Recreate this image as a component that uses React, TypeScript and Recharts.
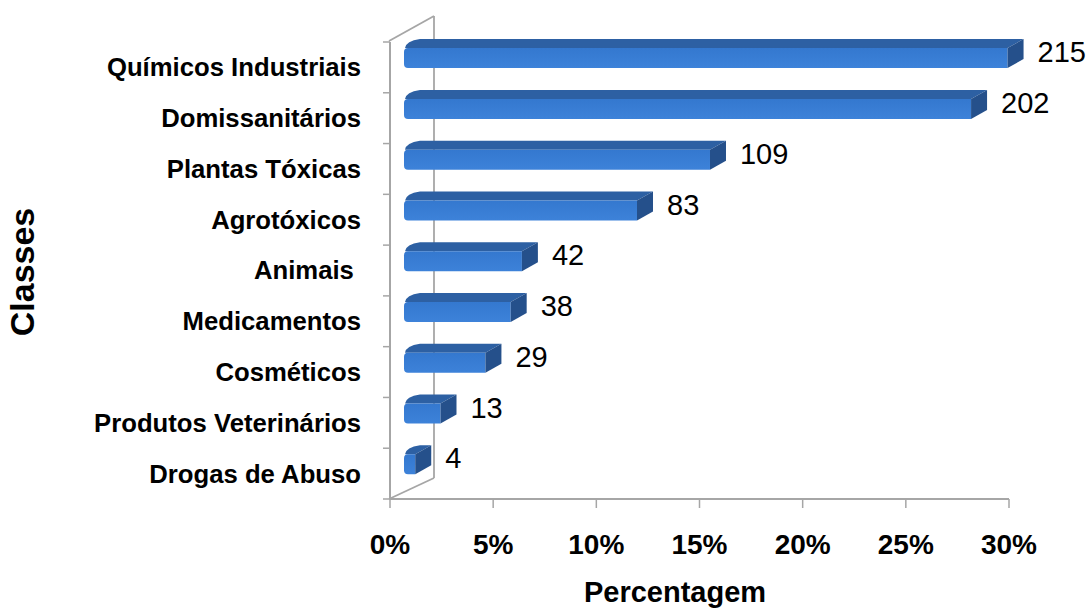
import { Bar, BarChart, LabelList, XAxis, YAxis } from "recharts";

// Casos por classe de agente tóxico
const classes = [
	"Químicos Industriais",
	"Domissanitários",
	"Plantas Tóxicas",
	"Agrotóxicos",
	"Animais ",
	"Medicamentos",
	"Cosméticos",
	"Produtos Veterinários",
	"Drogas de Abuso",
];
const casos = [215, 202, 109, 83, 42, 38, 29, 13, 4];
const percentTicks = [0, 0.05, 0.1, 0.15, 0.2, 0.25, 0.3];

const total = casos.reduce((a, b) => a + b, 0);
const data = classes.map((name, i) => ({
	name,
	casos: casos[i],
	pct: casos[i] / total,
}));

const W = 1091;
const H = 610;
const LEFT = 390;
const RIGHT = 1009;
const TOP = 42;
const BOTTOM = 499;
const BAND = (BOTTOM - TOP) / classes.length;

// box geometry for the pseudo-3D bars
const SHIFT_X = 14;
const DEPTH_X = 16;
const DEPTH_Y = 9;
const FRONT_H = 20;
const FRAME = "#a6a6a6";
const FONT = "'Liberation Sans', Arial, sans-serif";

function Box3D(props: any) {
	const { x, y, width, height } = props;
	const mid = y + height / 2;
	const top = mid - BAND / 2 + 6;
	const bot = top + FRONT_H;
	const x0 = x + SHIFT_X;
	const x1 = x0 + Math.max(width, 0);
	const r = 4;
	const front = `M${x0 + r},${top} L${x1},${top} L${x1},${bot} L${x0 + r},${bot} Q${x0},${bot} ${x0},${bot - r} L${x0},${top + r} Q${x0},${top} ${x0 + r},${top} Z`;
	const lid = `M${x0 + 1},${top} Q${x0 + 2},${top - DEPTH_Y + 2} ${x0 + DEPTH_X},${top - DEPTH_Y} L${x1 + DEPTH_X},${top - DEPTH_Y} L${x1},${top} Z`;
	const side = `M${x1},${top} L${x1 + DEPTH_X},${top - DEPTH_Y} L${x1 + DEPTH_X},${bot - DEPTH_Y} L${x1},${bot} Z`;
	return (
		<g>
			<path d={lid} fill="#2d60a3" />
			<path d={front} fill="url(#frontGrad)" />
			<path d={side} fill="#25508b" />
		</g>
	);
}

function ValueLabel(props: any) {
	const { x, y, width, height, value } = props;
	const mid = y + height / 2;
	const top = mid - BAND / 2 + 6;
	return (
		<text
			x={x + SHIFT_X + width + DEPTH_X + 14}
			y={top + 4}
			dy="0.35em"
			fontFamily={FONT}
			fontSize={29}
			fill="#000"
		>
			{value}
		</text>
	);
}

function ClassTick(props: any) {
	const { y, payload, index } = props;
	const bandTop = y - BAND / 2;
	return (
		<g>
			<line x1={LEFT - 7} x2={LEFT} y1={bandTop} y2={bandTop} stroke={FRAME} strokeWidth={1.5} />
			{index === classes.length - 1 && (
				<line x1={LEFT - 7} x2={LEFT} y1={bandTop + BAND} y2={bandTop + BAND} stroke={FRAME} strokeWidth={1.5} />
			)}
			<text
				x={361}
				y={y}
				dy="0.35em"
				textAnchor="end"
				fontFamily={FONT}
				fontWeight="bold"
				fontSize={25.7}
				fill="#000"
				style={{ whiteSpace: "pre" }}
			>
				{payload.value}
			</text>
		</g>
	);
}

function Frame() {
	const bx = LEFT + 44;
	return (
		<g>
			<defs>
				<linearGradient id="frontGrad" x1="0" y1="0" x2="0" y2="1">
					<stop offset="0%" stopColor="#3478cf" />
					<stop offset="100%" stopColor="#3d82d9" />
				</linearGradient>
			</defs>
			<line x1={LEFT - 1} y1={TOP - 1} x2={bx} y2={TOP - 26} stroke={FRAME} strokeWidth={1.8} />
			<line x1={bx} y1={TOP - 26} x2={bx} y2={BOTTOM - 21} stroke={FRAME} strokeWidth={1.8} />
			<line x1={LEFT - 1} y1={BOTTOM} x2={bx} y2={BOTTOM - 21} stroke={FRAME} strokeWidth={1.8} />
		</g>
	);
}

export default function App() {
	return (
		<div style={{ position: "absolute", left: 0, top: 0, background: "#fff" }}>
			<BarChart
				width={W}
				height={H}
				data={data}
				layout="vertical"
				margin={{ top: TOP, right: W - RIGHT, bottom: 0, left: 0 }}
				barCategoryGap={0}
				barGap={0}
			>
				<Frame />
				<XAxis
					type="number"
					domain={[0, 0.3]}
					ticks={percentTicks}
					tickFormatter={(v: number) => `${Math.round(v * 100)}%`}
					height={H - BOTTOM}
					axisLine={{ stroke: FRAME, strokeWidth: 2 }}
					tickLine={{ stroke: FRAME, strokeWidth: 1.5 }}
					tickSize={9}
					tickMargin={26}
					tick={{ fontFamily: FONT, fontWeight: "bold", fontSize: 28, fill: "#000" }}
					interval={0}
					label={{
						content: () => (
							<text x={675} y={602} textAnchor="middle" fontFamily={FONT} fontWeight="bold" fontSize={29} fill="#000">
								Percentagem
							</text>
						),
					}}
				/>
				<YAxis
					type="category"
					dataKey="name"
					width={LEFT}
					axisLine={{ stroke: FRAME, strokeWidth: 2 }}
					tickLine={false}
					tick={<ClassTick />}
					interval={0}
					label={{
						content: () => (
							<text
								x={34}
								y={272}
								textAnchor="middle"
								transform="rotate(-90, 34, 272)"
								fontFamily={FONT}
								fontWeight="bold"
								fontSize={34}
								fill="#000"
							>
								Classes
							</text>
						),
					}}
				/>
				<Bar dataKey="pct" shape={<Box3D />} isAnimationActive={false}>
					<LabelList dataKey="casos" content={<ValueLabel />} />
				</Bar>
			</BarChart>
		</div>
	);
}
